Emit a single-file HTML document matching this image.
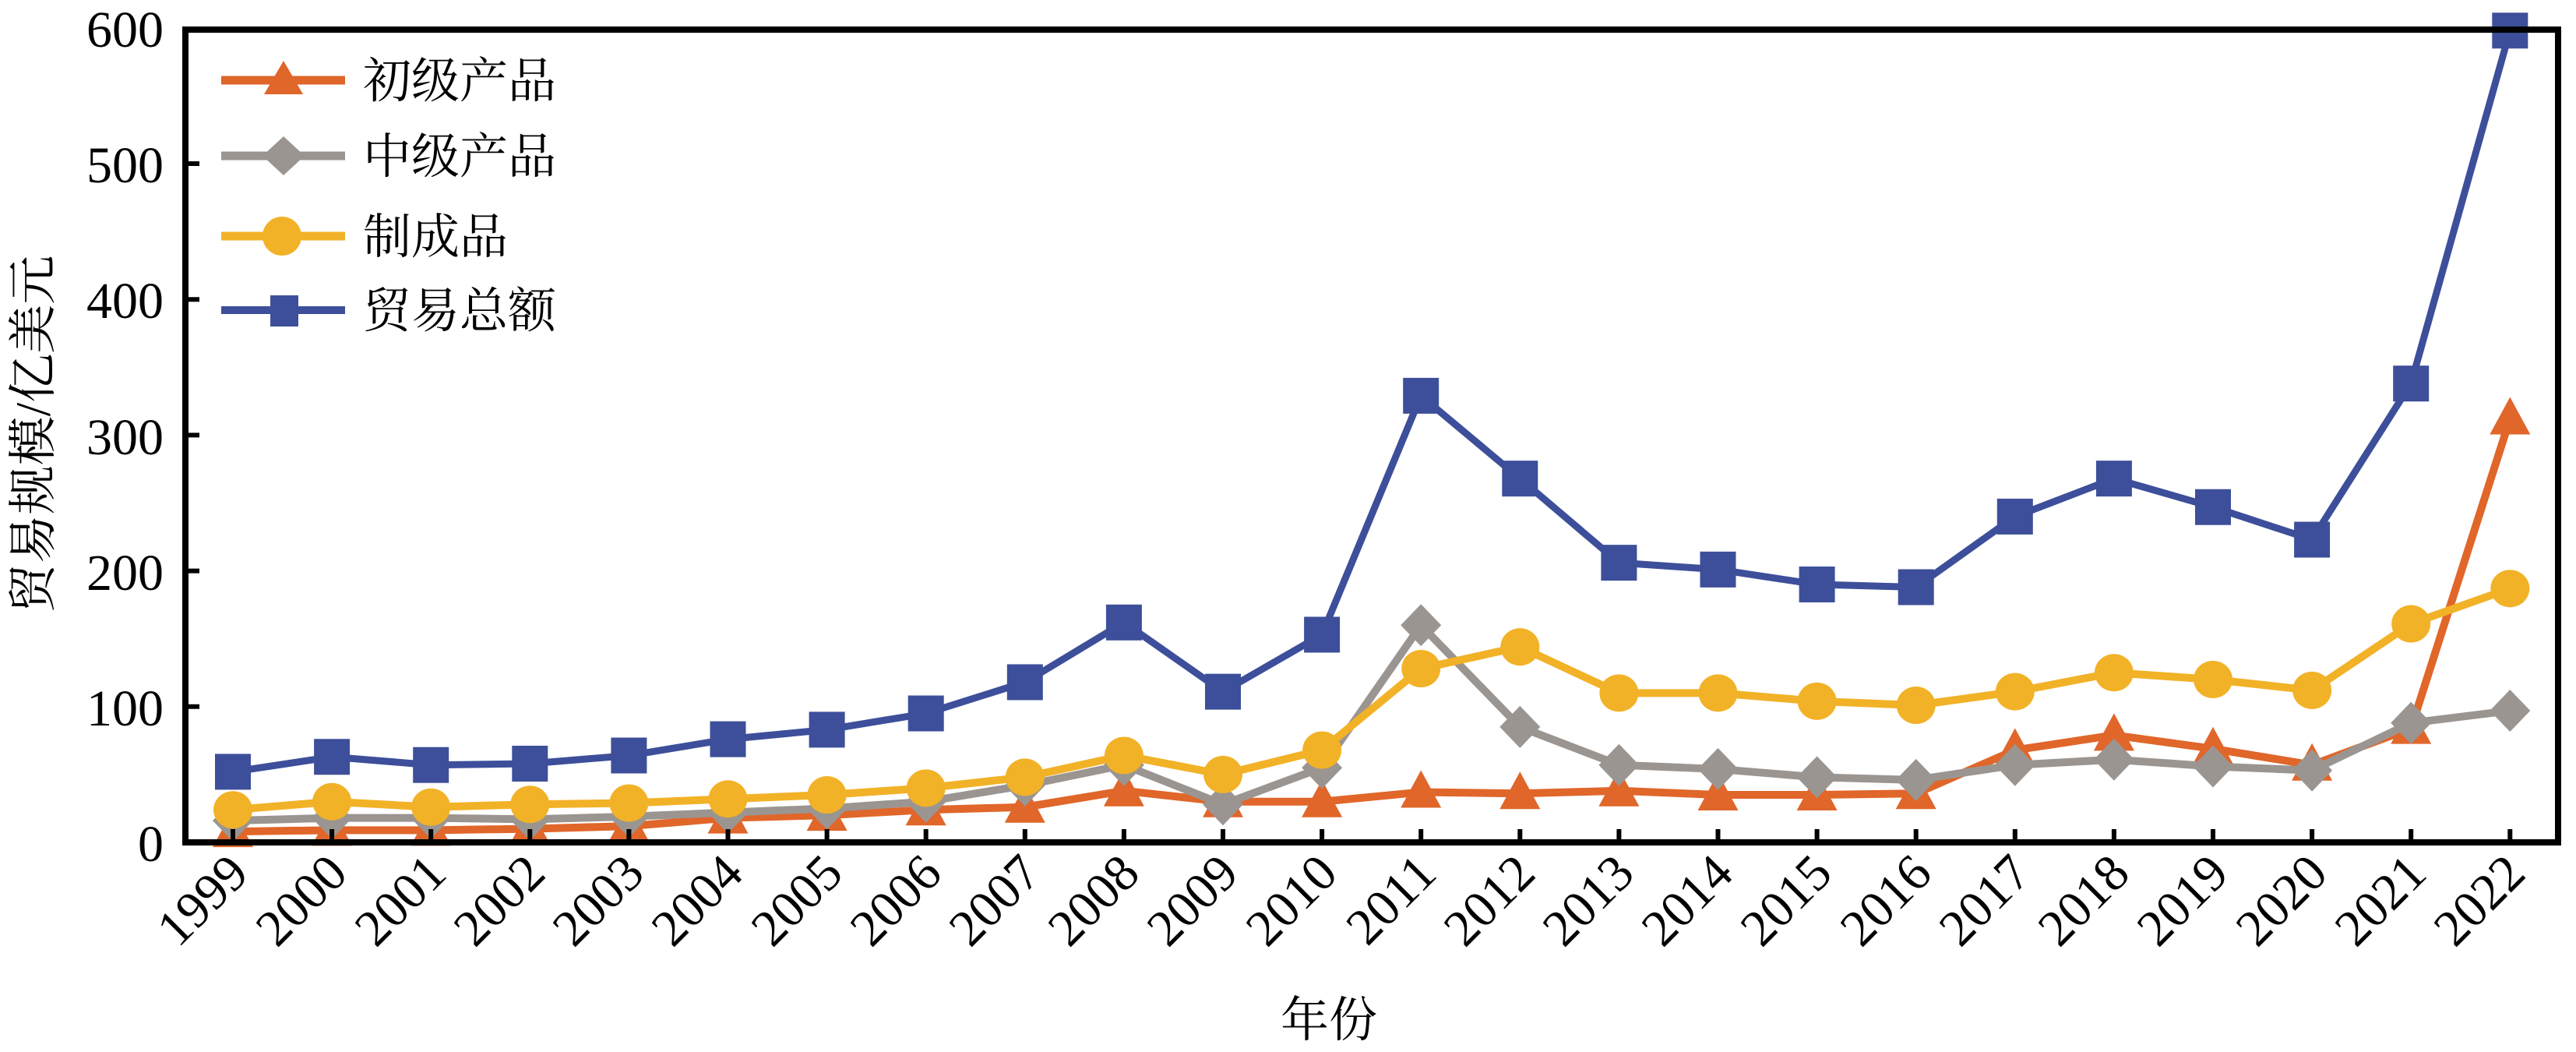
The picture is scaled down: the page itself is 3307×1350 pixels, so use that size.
<!DOCTYPE html>
<html><head><meta charset="utf-8"><style>html,body{margin:0;padding:0;background:#fff}svg{display:block}
svg text{font-family:"Liberation Serif","Times New Roman",Times,"DejaVu Serif","Noto Serif CJK SC",serif !important}
</style></head>
<body>
<svg id="s" width="3307" height="1350" viewBox="0 0 3307 1350" xmlns="http://www.w3.org/2000/svg">
<rect width="3307" height="1350" fill="#fff"/>
<g id="series"></g>
<rect x="238" y="38" width="3046" height="1043" fill="none" stroke="#000" stroke-width="8"/>
<g stroke="#000" stroke-width="6" id="ticks"></g>
<g font-size="66" text-anchor="end" fill="#000">
<text x="210" y="60">600</text>
<text x="210" y="234">500</text>
<text x="210" y="408">400</text>
<text x="210" y="583">300</text>
<text x="210" y="757">200</text>
<text x="210" y="931">100</text>
<text x="210" y="1105">0</text>
</g>
<g font-size="66" text-anchor="end" fill="#000">
<text transform="translate(322,1124) rotate(-45)">1999</text>
<text transform="translate(449,1124) rotate(-45)">2000</text>
<text transform="translate(576,1124) rotate(-45)">2001</text>
<text transform="translate(703,1124) rotate(-45)">2002</text>
<text transform="translate(830,1124) rotate(-45)">2003</text>
<text transform="translate(957,1124) rotate(-45)">2004</text>
<text transform="translate(1085,1124) rotate(-45)">2005</text>
<text transform="translate(1212,1124) rotate(-45)">2006</text>
<text transform="translate(1339,1124) rotate(-45)">2007</text>
<text transform="translate(1466,1124) rotate(-45)">2008</text>
<text transform="translate(1593,1124) rotate(-45)">2009</text>
<text transform="translate(1720,1124) rotate(-45)">2010</text>
<text transform="translate(1847,1124) rotate(-45)">2011</text>
<text transform="translate(1974,1124) rotate(-45)">2012</text>
<text transform="translate(2101,1124) rotate(-45)">2013</text>
<text transform="translate(2228,1124) rotate(-45)">2014</text>
<text transform="translate(2355,1124) rotate(-45)">2015</text>
<text transform="translate(2483,1124) rotate(-45)">2016</text>
<text transform="translate(2610,1124) rotate(-45)">2017</text>
<text transform="translate(2737,1124) rotate(-45)">2018</text>
<text transform="translate(2864,1124) rotate(-45)">2019</text>
<text transform="translate(2991,1124) rotate(-45)">2020</text>
<text transform="translate(3118,1124) rotate(-45)">2021</text>
<text transform="translate(3245,1124) rotate(-45)">2022</text>
</g>
<text x="1706" y="1330" font-size="62" text-anchor="middle">年份</text>
<text transform="translate(64,557) rotate(-90)" font-size="63" text-anchor="middle">贸易规模/亿美元</text>
<g font-size="62" fill="#000">
<line x1="284" y1="103" x2="443" y2="103" stroke="#E0662A" stroke-width="11"/>
<polygon points="364,78 389,121 339,121" fill="#E0662A"/>
<text x="466" y="125">初级产品</text>
<line x1="284" y1="200" x2="443" y2="200" stroke="#9B9591" stroke-width="11"/>
<polygon points="364,175 391,200 364,225 337,200" fill="#9B9591"/>
<text x="466" y="222">中级产品</text>
<line x1="284" y1="303" x2="443" y2="303" stroke="#F2B227" stroke-width="11"/>
<ellipse cx="362" cy="303" rx="25" ry="25" fill="#F2B227"/>
<text x="466" y="325">制成品</text>
<line x1="284" y1="398" x2="443" y2="398" stroke="#3D4F9A" stroke-width="10"/>
<rect x="347" y="379" width="36" height="40" fill="#3D4F9A"/>
<text x="466" y="420">贸易总额</text>
</g>
</svg>
<script>
(function(){
var NS="http://www.w3.org/2000/svg";
function X(i){return 299+127.1*i;}
function Y(v){return 1081-v*1.742;}
var prim=[8,9,9,10,12,18,20,24,26,38,30,30,37,36,38,35,35,36,68,79,69,57,84,312];
var inter=[16,18,18,17,19,22,25,30,42,57,28,55,160,85,57,54,48,46,57,61,56,53,88,97];
var manu=[24,30,26,28,29,32,35,40,48,64,50,68,128,144,110,110,104,101,111,125,120,112,161,187];
var tot=[52,63,57,58,64,76,83,95,118,162,111,153,329,268,206,201,190,188,240,268,247,223,338,598];
var g=document.getElementById('series');
function el(n,a){var e=document.createElementNS(NS,n);for(var k in a)e.setAttribute(k,a[k]);g.appendChild(e);return e;}
function line(d,c,w){el('polyline',{points:d.map(function(v,i){return X(i)+','+Y(v)}).join(' '),fill:'none',stroke:c,'stroke-width':w,'stroke-linejoin':'miter'});}
line(prim,'#E0662A',10);
prim.forEach(function(v,i){var x=X(i),y=Y(v);el('polygon',{points:x+','+(y-28)+' '+(x+26)+','+(y+20)+' '+(x-26)+','+(y+20),fill:'#E0662A'});});
line(inter,'#9B9591',10);
inter.forEach(function(v,i){var x=X(i),y=Y(v);el('polygon',{points:x+','+(y-27)+' '+(x+26)+','+y+' '+x+','+(y+27)+' '+(x-26)+','+y,fill:'#9B9591'});});
line(manu,'#F2B227',10);
manu.forEach(function(v,i){el('ellipse',{cx:X(i),cy:Y(v),rx:25,ry:24,fill:'#F2B227'});});
line(tot,'#3D4F9A',9);
tot.forEach(function(v,i){el('rect',{x:X(i)-23,y:Y(v)-23,width:46,height:46,fill:'#3D4F9A'});});
var t=document.getElementById('ticks');
for(var i=0;i<24;i++){var l=document.createElementNS(NS,'line');l.setAttribute('x1',X(i));l.setAttribute('x2',X(i));l.setAttribute('y1',1081);l.setAttribute('y2',1064);t.appendChild(l);}
for(var k=1;k<6;k++){var l=document.createElementNS(NS,'line');l.setAttribute('x1',238);l.setAttribute('x2',256);l.setAttribute('y1',Y(k*100));l.setAttribute('y2',Y(k*100));t.appendChild(l);}
})();
</script>
</body></html>
